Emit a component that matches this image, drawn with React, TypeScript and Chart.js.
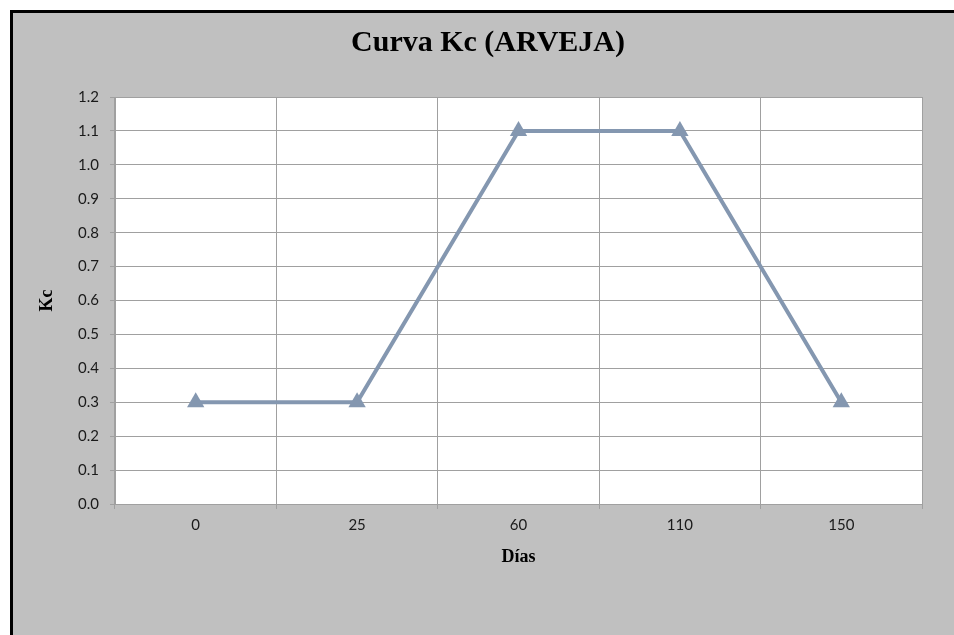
import React, { useEffect, useRef } from "react";
import { Chart, registerables } from "chart.js";

Chart.register(...registerables);

const categories = ["0", "25", "60", "110", "150"];
const kcValues = [0.3, 0.3, 1.1, 1.1, 0.3];
const chartTitle = "Curva Kc (ARVEJA)";
const xTitle = "Días";
const yTitle = "Kc";

const W = 954;
const H = 635;

const framePlugin = {
  id: "frame",
  beforeDraw(chart: any) {
    const { ctx, chartArea } = chart;
    ctx.save();
    ctx.fillStyle = "#ffffff";
    ctx.fillRect(0, 0, W, H);
    ctx.fillStyle = "#c0c0c0";
    ctx.fillRect(10, 10, W, H);
    ctx.strokeStyle = "#000000";
    ctx.lineWidth = 3;
    ctx.strokeRect(11.5, 11.5, W + 20, H + 20);
    ctx.fillStyle = "#ffffff";
    ctx.fillRect(chartArea.left, chartArea.top, chartArea.right - chartArea.left, chartArea.bottom - chartArea.top);
    ctx.restore();
  },
  afterDraw(chart: any) {
    const { ctx } = chart;
    ctx.save();
    ctx.fillStyle = "#000000";
    ctx.font = "bold 30px 'Liberation Serif', serif";
    ctx.textAlign = "center";
    ctx.textBaseline = "middle";
    ctx.fillText(chartTitle, 488, 43);
    ctx.restore();
  },
};

export default function App() {
  const ref = useRef<HTMLCanvasElement>(null);
  useEffect(() => {
    if (!ref.current) return;
    const chart = new Chart(ref.current, {
      type: "line",
      data: {
        labels: categories,
        datasets: [
          {
            label: yTitle,
            data: kcValues,
            borderColor: "#8497b0",
            backgroundColor: "#8497b0",
            borderWidth: 4,
            pointStyle: "triangle",
            pointRadius: 10,
            pointBorderWidth: 0,
            pointBackgroundColor: "#8497b0",
            tension: 0,
          },
        ],
      },
      options: {
        animation: false,
        responsive: false,
        layout: { padding: { left: 13, top: 97, right: 32, bottom: 0 } },
        plugins: {
          legend: { display: false },
          tooltip: { enabled: false },
          title: { display: false },
        },
        scales: {
          x: {
            type: "category",
            offset: true,
            grid: { offset: true, color: "#a0a0a0", lineWidth: 1, tickLength: 5, drawTicks: true },
            border: { color: "#a0a0a0", width: 1 },
            ticks: {
              color: "#1a1a1a",
              font: { family: "Lato, 'Open Sans', sans-serif", size: 15 },
              padding: 7,
              maxRotation: 0,
            },
            title: {
              display: true,
              text: xTitle,
              color: "#000000",
              font: { family: "'Liberation Serif', serif", size: 18, weight: "bold", lineHeight: 1.2 },
              padding: { top: 0, bottom: 67 },
            },
            afterFit: (scale: any) => {
              scale.height = 131;
            },
          },
          y: {
            type: "linear",
            min: 0,
            max: 1.2,
            grid: { color: "#a0a0a0", lineWidth: 1, tickLength: 5, drawTicks: true },
            border: { color: "#a0a0a0", width: 1 },
            ticks: {
              stepSize: 0.1,
              color: "#1a1a1a",
              font: { family: "Lato, 'Open Sans', sans-serif", size: 15 },
              padding: 11,
              callback: (v: any) => Number(v).toFixed(1),
            },
            title: {
              display: true,
              text: yTitle,
              color: "#000000",
              font: { family: "'Liberation Serif', serif", size: 18, weight: "bold", lineHeight: 1.2 },
              padding: { top: 24, bottom: 0 },
            },
            afterFit: (scale: any) => {
              scale.width = 102;
            },
          },
        },
      },
      plugins: [framePlugin],
    } as any);
    return () => chart.destroy();
  }, []);
  return (
    <div style={{ position: "absolute", left: 0, top: 0, width: W, height: H }}>
      <canvas ref={ref} width={W} height={H} style={{ width: W, height: H }} />
    </div>
  );
}
